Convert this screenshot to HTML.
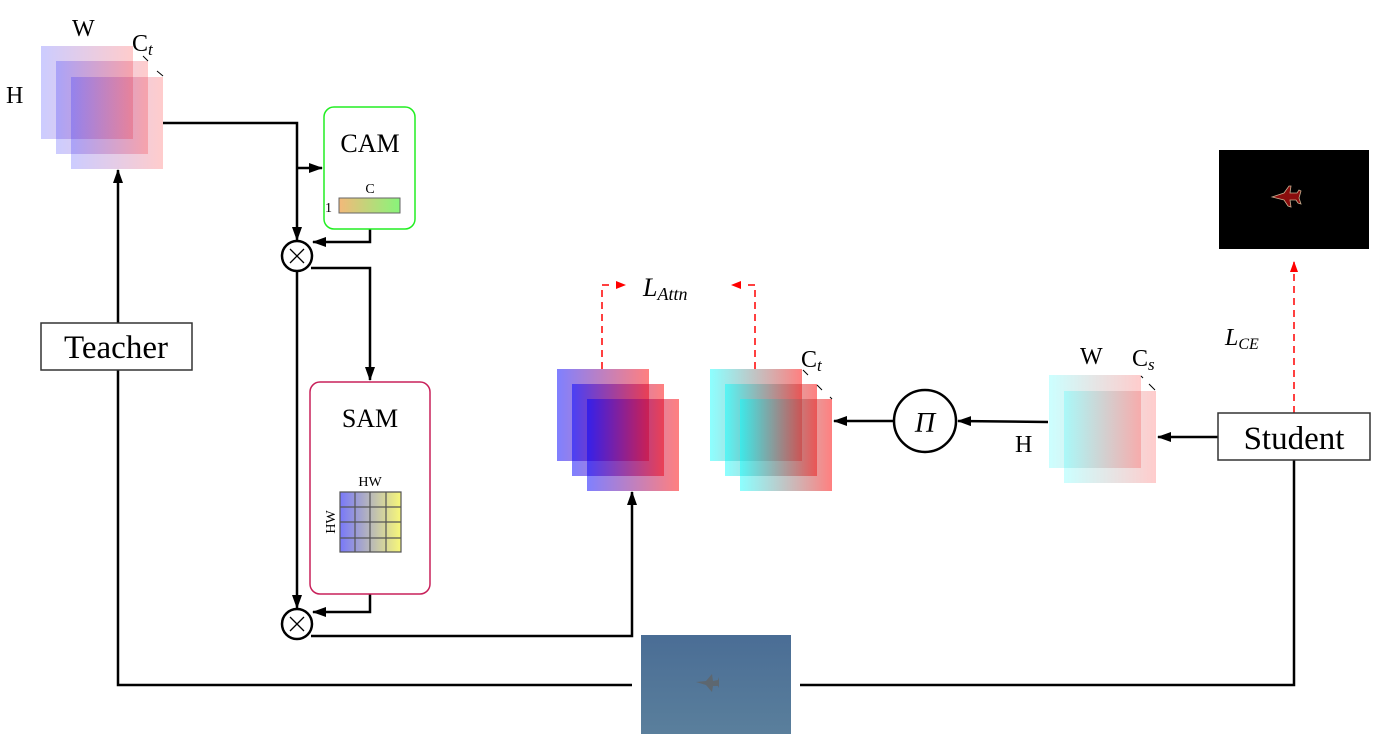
<!DOCTYPE html>
<html><head><style>body{margin:0;background:#fff}svg{display:block}text{font-family:"Liberation Serif",serif;fill:#000}</style></head><body>
<svg width="1382" height="744" viewBox="0 0 1382 744" xmlns="http://www.w3.org/2000/svg">
<defs>
<linearGradient id="br1"><stop offset="0" stop-color="rgb(0,0,255)" stop-opacity="0.2"/><stop offset="1" stop-color="rgb(255,0,0)" stop-opacity="0.2"/></linearGradient>
<linearGradient id="br2"><stop offset="0" stop-color="rgb(0,0,255)" stop-opacity="0.5"/><stop offset="1" stop-color="rgb(255,0,0)" stop-opacity="0.5"/></linearGradient>
<linearGradient id="cr2"><stop offset="0" stop-color="rgb(0,255,255)" stop-opacity="0.45"/><stop offset="1" stop-color="rgb(255,0,0)" stop-opacity="0.5"/></linearGradient>
<linearGradient id="cr1"><stop offset="0" stop-color="rgb(0,255,255)" stop-opacity="0.2"/><stop offset="1" stop-color="rgb(255,0,0)" stop-opacity="0.2"/></linearGradient>
<linearGradient id="og"><stop offset="0" stop-color="#f3b97a"/><stop offset="1" stop-color="#88f57a"/></linearGradient>
<linearGradient id="by"><stop offset="0" stop-color="#7878fa"/><stop offset="1" stop-color="#f8f878"/></linearGradient>
<linearGradient id="sky" x1="0" y1="0" x2="0" y2="1"><stop offset="0" stop-color="#4a6d95"/><stop offset="1" stop-color="#5a7f9c"/></linearGradient>
<marker id="a" markerWidth="14" markerHeight="10" refX="13" refY="5" orient="auto" markerUnits="userSpaceOnUse"><path d="M0,0 L14,5 L0,10 z" fill="#000"/></marker>
</defs>
<rect x="41" y="46" width="92" height="93" fill="url(#br1)"/>
<rect x="56" y="61" width="92" height="93" fill="url(#br1)"/>
<rect x="71" y="77" width="92" height="92" fill="url(#br1)"/>
<text x="72" y="36" font-size="24">W</text>
<text x="132" y="51" font-size="24">C<tspan font-style="italic" font-size="17" dy="4">t</tspan></text>
<text x="6" y="103" font-size="24">H</text>
<path d="M143,56 L148,61 M157,71 L163,76" stroke="#000" stroke-width="1"/>
<g stroke="#000" stroke-width="2.5" fill="none">
<path d="M163,123 H297 V240" marker-end="url(#a)"/>
<path d="M297,168 H322" marker-end="url(#a)"/>
<path d="M370,229 V242 H313" marker-end="url(#a)"/>
<path d="M311,268 H370 V380" marker-end="url(#a)"/>
<path d="M297,271 V608" marker-end="url(#a)"/>
<path d="M370,594 V612 H313" marker-end="url(#a)"/>
<path d="M311,636 H632 V492" marker-end="url(#a)"/>
<path d="M632,685 H118 V170" marker-end="url(#a)"/>
<path d="M800,685 H1294 V460"/>
<path d="M1218,437 H1158" marker-end="url(#a)"/>
<path d="M1048,422 L958,421" marker-end="url(#a)"/>
<path d="M894,421 H834" marker-end="url(#a)"/>
<circle cx="297" cy="256" r="15" fill="#fff"/>
<circle cx="297" cy="624" r="15" fill="#fff"/>
<circle cx="925" cy="421" r="31" fill="#fff"/>
</g>
<path d="M290,249 L304,263 M304,249 L290,263 M290,617 L304,631 M304,617 L290,631" stroke="#000" stroke-width="1.3"/>
<text x="925" y="432" font-size="28" font-style="italic" text-anchor="middle">Π</text>
<rect x="324" y="107" width="91" height="122" rx="10" fill="#fff" stroke="#22ee22" stroke-width="1.5"/>
<text x="370" y="152" font-size="26" text-anchor="middle">CAM</text>
<rect x="339" y="198" width="61" height="15" fill="url(#og)" stroke="#666" stroke-width="1"/>
<text x="370" y="193" font-size="14" text-anchor="middle">C</text>
<text x="325" y="212" font-size="14">1</text>
<rect x="310" y="382" width="120" height="212" rx="10" fill="#fff" stroke="#c8205a" stroke-width="1.5"/>
<text x="370" y="427" font-size="26" text-anchor="middle">SAM</text>
<rect x="340" y="492" width="61" height="60" fill="url(#by)"/>
<path d="M340,492 H401 V552 H340 Z M355,492 V552 M370,492 V552 M386,492 V552 M340,507 H401 M340,522 H401 M340,538 H401" stroke="#555" stroke-width="1.2" fill="none"/>
<text x="370" y="486" font-size="14" text-anchor="middle">HW</text>
<text x="0" y="0" font-size="14" text-anchor="middle" transform="translate(335,522) rotate(-90)">HW</text>
<rect x="557" y="369" width="92" height="92" fill="url(#br2)"/>
<rect x="572" y="384" width="92" height="92" fill="url(#br2)"/>
<rect x="587" y="399" width="92" height="92" fill="url(#br2)"/>
<rect x="710" y="369" width="92" height="92" fill="url(#cr2)"/>
<rect x="725" y="384" width="92" height="92" fill="url(#cr2)"/>
<rect x="740" y="399" width="92" height="92" fill="url(#cr2)"/>
<path d="M803,370 L808,375 M817,385 L822,390 M830,397 L832,399" stroke="#000" stroke-width="1"/>
<text x="801" y="367" font-size="24">C<tspan font-style="italic" font-size="17" dy="4">t</tspan></text>
<g stroke="#f00" stroke-width="1.5" fill="none" stroke-dasharray="7,5">
<path d="M602,369 V285 H610"/>
<path d="M755,369 V285 H748"/>
<path d="M1294,413 V262"/>
</g>
<path d="M616,281 L626,285 L616,289 z M741,281 L731,285 L741,289 z M1290,272 L1294,261 L1298,272 z" fill="#f00"/>
<text x="643" y="296" font-size="26" font-style="italic">L<tspan font-size="18" dy="4">Attn</tspan></text>
<rect x="1049" y="375" width="92" height="93" fill="url(#cr1)"/>
<rect x="1064" y="391" width="92" height="92" fill="url(#cr1)"/>
<path d="M1141,376 L1143,378 M1149,384 L1155,390" stroke="#000" stroke-width="1"/>
<text x="1080" y="364" font-size="24">W</text>
<text x="1132" y="366" font-size="24">C<tspan font-style="italic" font-size="17" dy="4">s</tspan></text>
<text x="1015" y="452" font-size="24">H</text>
<text x="1225" y="345" font-size="24" font-style="italic">L<tspan font-size="16" dy="4">CE</tspan></text>
<rect x="1218" y="413" width="152" height="47" fill="#fff" stroke="#333" stroke-width="1.5"/>
<text x="1294" y="449" font-size="33" text-anchor="middle">Student</text>
<rect x="41" y="323" width="151" height="47" fill="#fff" stroke="#333" stroke-width="1.5"/>
<text x="116" y="358" font-size="33" text-anchor="middle">Teacher</text>
<rect x="1219" y="150" width="150" height="99" fill="#000"/>
<path d="M1272,197 L1284,193 L1289,186 L1291,186 L1290,193 L1297,193 L1299,190 L1301,191 L1299,198 L1301,204 L1298,203 L1296,200 L1290,200 L1291,207 L1288,206 L1284,200 Z" fill="#8a0d0d" stroke="#c8b090" stroke-width="0.8"/>
<rect x="641" y="635" width="150" height="99" fill="url(#sky)"/>
<path d="M696,682 L706,681 L712,674 L713,681 L718,680 L719,677 L719,688 L718,686 L713,686 L712,692 L706,685 Z" fill="#5d6770"/>
</svg>
</body></html>
